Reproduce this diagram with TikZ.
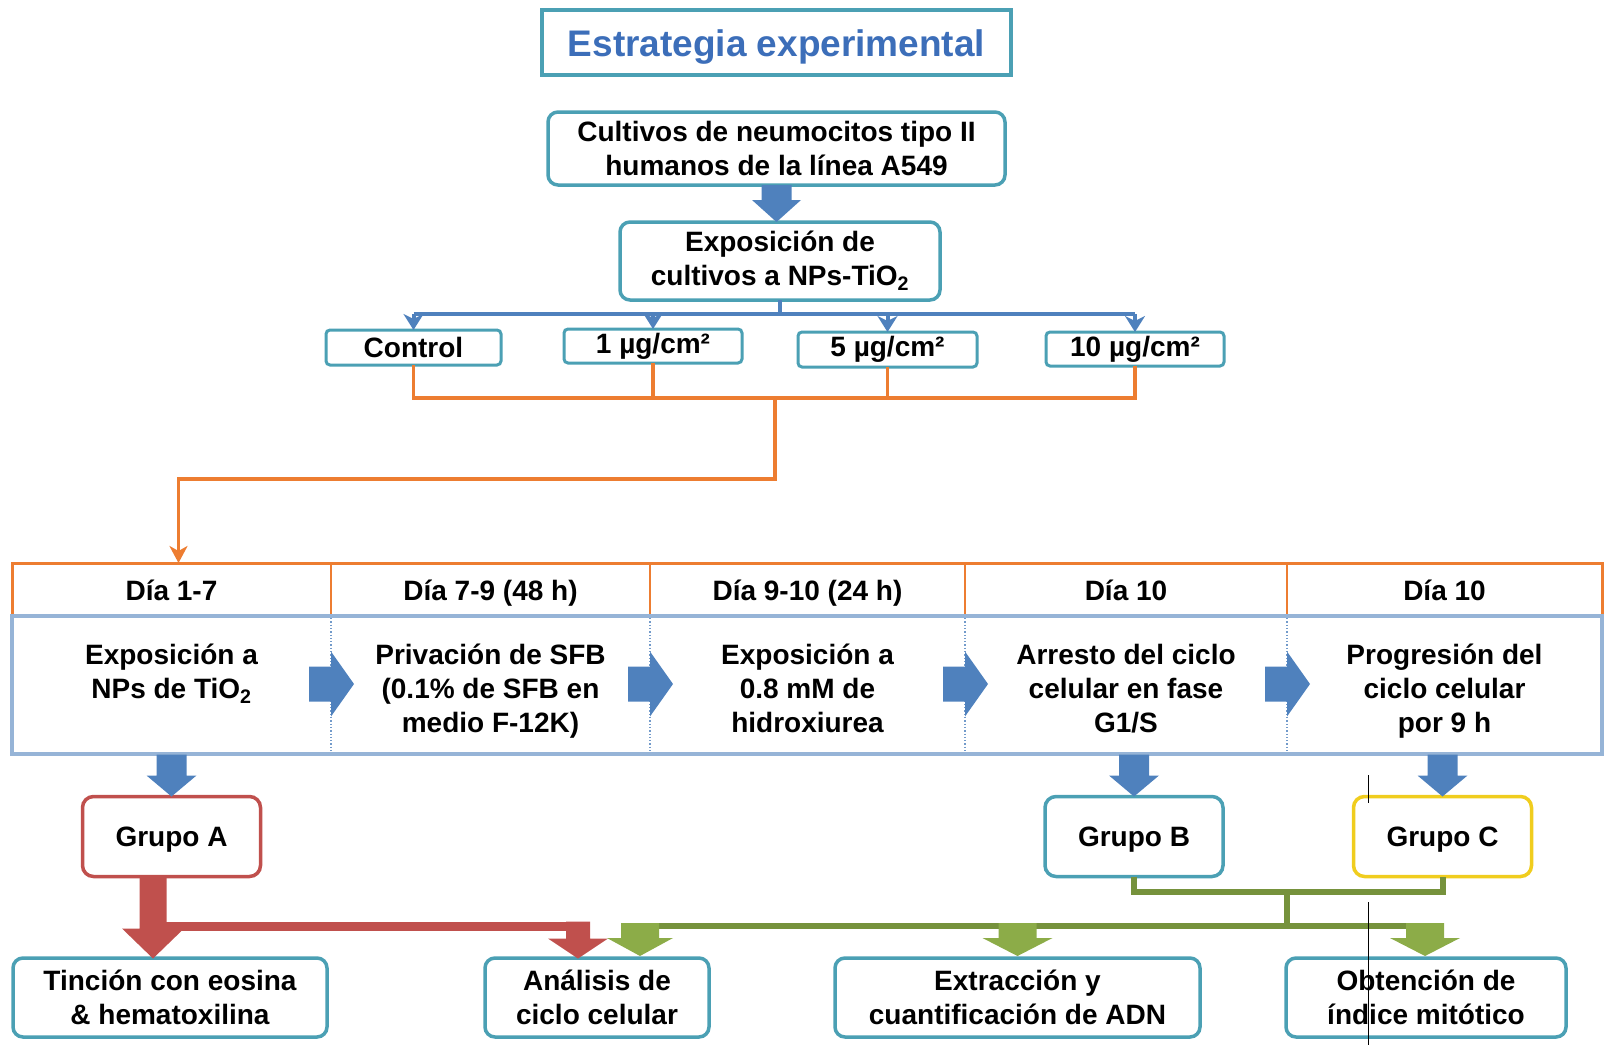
\documentclass[tikz,border=0pt]{standalone}
\usepackage{fontspec}
\setmainfont{Liberation Sans}
\usetikzlibrary{arrows.meta}
\definecolor{tealc}{RGB}{75,160,180}
\definecolor{arrowblue}{RGB}{79,129,189}
\definecolor{orc}{RGB}{237,125,49}
\definecolor{redc}{RGB}{192,80,77}
\definecolor{grc}{RGB}{118,146,60}
\definecolor{grfill}{RGB}{140,172,72}
\definecolor{yelc}{RGB}{240,205,30}
\definecolor{tblc}{RGB}{150,180,215}
\definecolor{titleblue}{RGB}{60,110,185}
\tikzset{
  pics/darrow/.style n args={5}{code={
    \fill[#5] (-#1/2,0) -- (#1/2,0) -- (#1/2,#3-#4) -- (#2/2,#3-#4) -- (0,#3)
      -- (-#2/2,#3-#4) -- (-#1/2,#3-#4) -- cycle;}},
  pics/rarrow/.style n args={5}{code={
    \fill[#5] (0,-#1/2) -- (#3-#4,-#1/2) -- (#3-#4,-#2/2) -- (#3,0)
      -- (#3-#4,#2/2) -- (#3-#4,#1/2) -- (0,#1/2) -- cycle;}},
}
\begin{document}
\begin{tikzpicture}[x=1pt,y=-1pt,
  every node/.style={inner sep=0pt, outer sep=0pt, align=center,
    font=\bfseries\fontsize{28}{34}\selectfont},
  tbox/.style={draw=tealc, line width=3.5pt, rounded corners=10pt, fill=white},
  sbox/.style={draw=tealc, line width=3pt, rounded corners=4pt, fill=white},
  gbox/.style={line width=3.5pt, rounded corners=11pt, fill=white,
    minimum width=178, minimum height=80, text height=20pt, text depth=0pt},
  hcell/.style={minimum width=#1, minimum height=53, text height=24pt, text depth=3pt},
  bodytext/.style={anchor=north},
  blueline/.style={draw=arrowblue, line width=4pt},
  orline/.style={draw=orc, line width=3.5pt},
  grline/.style={draw=grc, line width=6pt},
]
\useasboundingbox (0,0) rectangle (1604,1045);

% title
\node[draw=tealc, line width=4pt, minimum width=469, minimum height=65,
  text height=27pt, text depth=0pt,
  text=titleblue, font=\bfseries\fontsize{37}{40}\selectfont] (title) at (776.5,42.5)
  {Estrategia experimental};

% top boxes
\node[tbox, minimum width=457, minimum height=73] (cult) at (776.5,148.5)
  {Cultivos de neumocitos tipo II\\humanos de la línea A549};
\node[tbox, minimum width=320, minimum height=78] (expo) at (780,261)
  {Exposición de\\cultivos a NPs-TiO\textsubscript{2}};
\pic at (cult.south) {darrow={30}{49}{37}{22}{arrowblue}};

% dose boxes
\node[sbox, minimum width=175, minimum height=35] (ctrl) at (413.5,347.5) {Control};
\node[sbox, minimum width=178, minimum height=34] (d1) at (653,346) {1 µg/cm²};
\node[sbox, minimum width=179, minimum height=35] (d5) at (887.5,349.5) {5 µg/cm²};
\node[sbox, minimum width=178, minimum height=34] (d10) at (1135,349) {10 µg/cm²};

% blue branching
\coordinate (bj) at (780,314);
\draw[blueline] (expo.south) -- (bj);
\draw[blueline] (ctrl.north |- bj) -- (d10.north |- bj);
\foreach \n in {ctrl,d1,d5,d10}
  \draw[blueline,-{Stealth[length=16pt,width=20pt,inset=5pt]}] (\n.north |- bj) -- (\n.north);

% table header cells
\node[hcell=319] (h1) at (171.5,589.5) {Día 1-7};
\node[hcell=319] (h2) at (490.5,589.5) {Día 7-9 (48 h)};
\node[hcell=315] (h3) at (807.5,589.5) {Día 9-10 (24 h)};
\node[hcell=322] (h4) at (1126,589.5) {Día 10};
\node[hcell=315] (h5) at (1444.5,589.5) {Día 10};

% table frame
\draw[orc, line width=3pt] (h1.south west) -- (h1.north west) -- (h5.north east) -- (h5.south east);
\draw[orc, line width=1.5pt] (h1.south west) -- (h5.south east);
\foreach \n in {h1,h2,h3,h4}
  \draw[orc, line width=1.5pt] (\n.north east) -- (\n.south east);
\draw[tblc, line width=3.5pt] (12,616) rectangle (1602,754);
\foreach \xx in {331,650,965,1287}
  \draw[arrowblue!80, line width=1.3pt, dotted] (\xx,618) -- (\xx,752);

% body texts
\node[bodytext] (b1) at (171.5,641) {\strut Exposición a\\NPs de TiO\textsubscript{2}};
\node[bodytext] (b2) at (490.5,641) {\strut Privación de SFB\\(0.1\% de SFB en\\medio F-12K)};
\node[bodytext] (b3) at (807.5,641) {\strut Exposición a\\0.8 mM de\\hidroxiurea};
\node[bodytext] (b4) at (1126,641) {\strut Arresto del ciclo\\celular en fase\\G1/S};
\node[bodytext] (b5) at (1444.5,641) {\strut Progresión del\\ciclo celular\\por 9 h};

% right arrows between columns
\foreach \xx in {331,650,965,1287}
  \pic at (\xx-22,684) {rarrow={35}{65}{45}{23}{arrowblue}};

% orange connectors
\coordinate (ob) at (775,398);
\coordinate (oc) at (775,479);
\draw[orline] (ctrl.south) |- (d10.south |- ob) -- (d10.south);
\draw[orline] (d1.south) -- (d1.south |- ob);
\draw[orline] (d5.south) -- (d5.south |- ob);
\draw[orline,-{Stealth[length=17pt,width=18pt,inset=5pt]}] (ob) -- (oc) -| ([xshift=7pt]h1.north);

% groups
\node[gbox, draw=redc] (gA) at (171.5,836.5) {Grupo A};
\node[gbox, draw=tealc] (gB) at (1134,836.5) {Grupo B};
\node[gbox, draw=yelc] (gC) at (1442.5,836.5) {Grupo C};
\pic at ([yshift=42pt]gA.north) {darrow={30}{50}{42}{21}{arrowblue}};
\pic at ([yshift=42pt]gB.north) {darrow={30}{50}{42}{21}{arrowblue}};
\pic at ([yshift=42pt]gC.north) {darrow={30}{50}{42}{21}{arrowblue}};

% result boxes
\node[tbox, minimum width=314, minimum height=79] (tin) at (170,997.5)
  {Tinción con eosina\\\& hematoxilina};
\node[tbox, minimum width=224, minimum height=79] (ana) at (597,997.5)
  {Análisis de\\ciclo celular};
\node[tbox, minimum width=365, minimum height=79] (ext) at (1017.5,997.5)
  {Extracción y\\cuantificación de ADN};
\node[tbox, minimum width=280, minimum height=79] (obt) at (1426,997.5)
  {Obtención de\\índice mitótico};

% red connectors (group A)
\coordinate (ra) at (153,926);
\coordinate (rb) at (578,926);
\draw[redc, line width=9pt] (ra) -- (rb);
\pic at ([xshift=-18.5pt]gA.south) {darrow={27}{62}{82}{30}{redc}};
\pic at ([yshift=4.5pt]rb) {darrow={24}{60}{37}{20}{redc}};

% green connectors (groups B and C)
\coordinate (gj) at (1287,892);
\coordinate (gk) at (1287,926);
\draw[grline] (gB.south) |- (gj) -| (gC.south);
\draw[grline] (gj) -- (gk);
\draw[grline] (640,926) -- (1425,926);
\pic at ([yshift=3pt]gk -| 640,0) {darrow={38}{66}{33}{18}{grfill}};
\pic at ([yshift=3pt]gk -| ext.north) {darrow={38}{70}{33}{18}{grfill}};
\pic at ([yshift=3pt]gk -| 1425,0) {darrow={38}{70}{33}{18}{grfill}};

% stray thin line
\draw[black, line width=1pt] (1368,775) -- (1368,803);
\draw[black, line width=1pt] (1368,902) -- (1368,1045);
\end{tikzpicture}
\end{document}
